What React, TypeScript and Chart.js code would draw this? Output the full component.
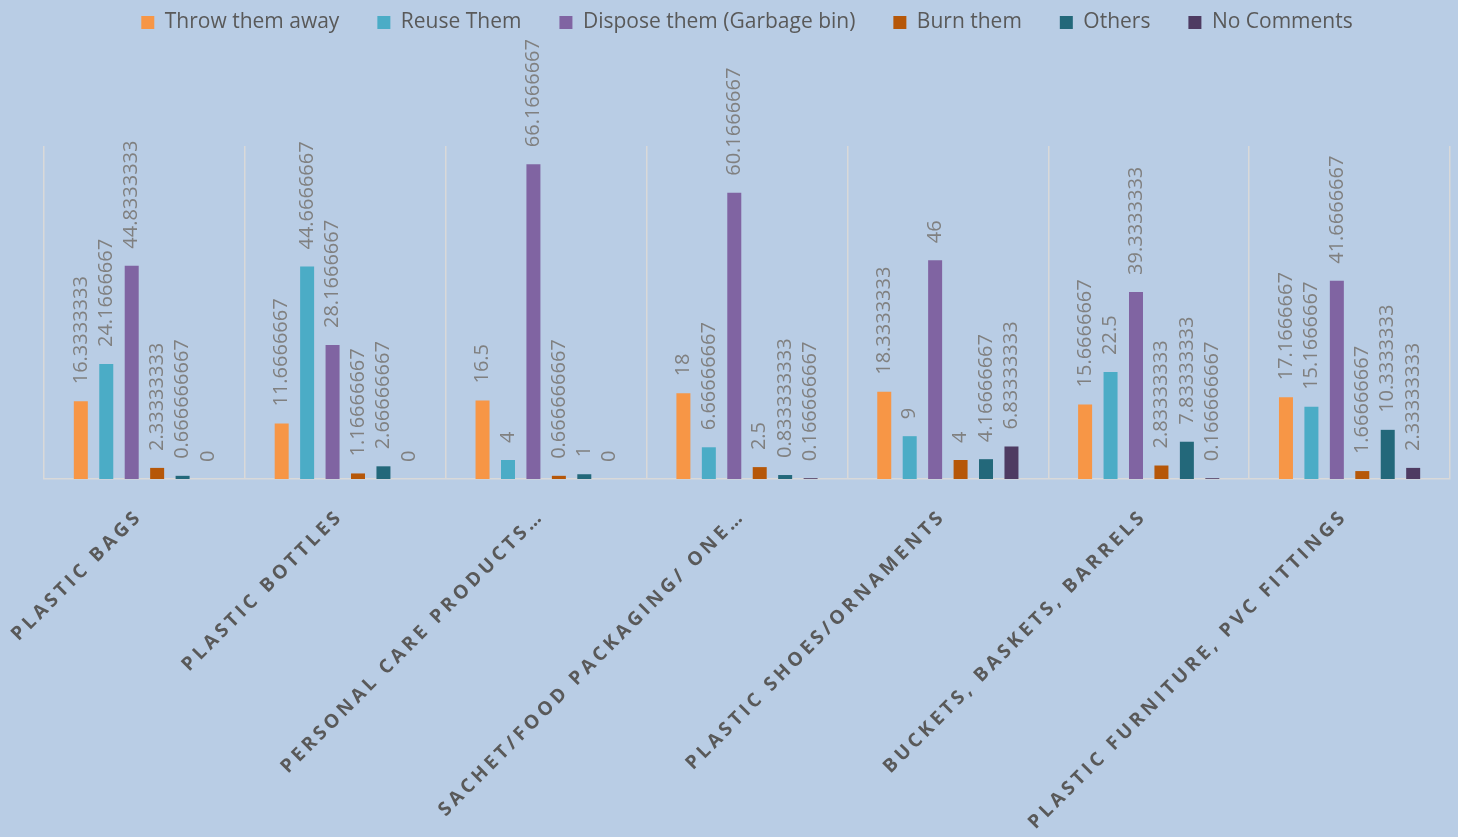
import React, { useEffect, useRef } from "react";
import { Chart, registerables } from "chart.js";

Chart.register(...registerables);

const categories = [
  "PLASTIC BAGS",
  "PLASTIC BOTTLES",
  "PERSONAL CARE PRODUCTS…",
  "SACHET/FOOD PACKAGING/ ONE…",
  "PLASTIC SHOES/ORNAMENTS",
  "BUCKETS, BASKETS, BARRELS",
  "PLASTIC FURNITURE, PVC FITTINGS",
];

const throwAway = [16.3333333, 11.6666667, 16.5, 18, 18.3333333, 15.6666667, 17.1666667];
const reuse = [24.1666667, 44.6666667, 4, 6.66666667, 9, 22.5, 15.1666667];
const dispose = [44.8333333, 28.1666667, 66.1666667, 60.1666667, 46, 39.3333333, 41.6666667];
const burn = [2.33333333, 1.16666667, 0.666666667, 2.5, 4, 2.83333333, 1.66666667];
const others = [0.666666667, 2.66666667, 1, 0.833333333, 4.16666667, 7.83333333, 10.3333333];
const noComments = [0, 0, 0, 0.166666667, 6.83333333, 0.166666667, 2.33333333];

const seriesNames = [
  "Throw them away",
  "Reuse Them",
  "Dispose them (Garbage bin)",
  "Burn them",
  "Others",
  "No Comments",
];
const seriesColors = ["#f79646", "#4bacc6", "#8064a2", "#b65708", "#23687a", "#4e3b62"];
const seriesData = [throwAway, reuse, dispose, burn, others, noComments];

const FONT = "'Open Sans', sans-serif";

const valueLabelPlugin = {
  id: "valueLabels",
  afterDatasetsDraw(chart: any) {
    const ctx = chart.ctx;
    ctx.save();
    ctx.font = `20px ${FONT}`;
    ctx.fillStyle = "#808080";
    ctx.textAlign = "left";
    ctx.textBaseline = "middle";
    chart.data.datasets.forEach((ds: any, i: number) => {
      const meta = chart.getDatasetMeta(i);
      meta.data.forEach((bar: any, j: number) => {
        const v = ds.data[j];
        const { x, y } = bar.getProps(["x", "y"], true);
        ctx.save();
        ctx.translate(x, y - 17);
        ctx.rotate(-Math.PI / 2);
        ctx.fillText(String(v), 0, 0);
        ctx.restore();
      });
    });
    ctx.restore();
  },
};

const xLabelSpacingPlugin = {
  id: "xLabelSpacing",
  beforeDraw(chart: any) {
    const s: any = chart.scales.x;
    if (s && !s.__patched) {
      const orig = s.drawLabels.bind(s);
      s.drawLabels = (area: any) => {
        const ctx: any = chart.ctx;
        const prev = ctx.letterSpacing;
        ctx.letterSpacing = "3.8px";
        orig(area);
        ctx.letterSpacing = prev || "0px";
      };
      s.__patched = true;
    }
  },
};

export default function App() {
  const canvasRef = useRef<HTMLCanvasElement | null>(null);

  useEffect(() => {
    if (!canvasRef.current) return;
    const chart = new Chart(canvasRef.current, {
      type: "bar",
      data: {
        labels: categories,
        datasets: seriesNames.map((name, i) => ({
          label: name,
          data: seriesData[i],
          backgroundColor: seriesColors[i],
          borderWidth: 0,
          categoryPercentage: 0.76,
          barPercentage: 0.55,
        })),
      },
      options: {
        animation: false,
        responsive: true,
        maintainAspectRatio: false,
        layout: { padding: { left: 44, right: 8, top: 0, bottom: 0 } },
        plugins: {
          legend: {
            display: true,
            position: "top",
            labels: {
              boxWidth: 13,
              boxHeight: 13,
              padding: 38,
              color: "#595959",
              font: { family: FONT, size: 21 },
            },
          },
          title: {
            display: true,
            text: "",
            weight: 500,
            font: { size: 10 },
            padding: { top: 0, bottom: 91 },
          } as any,
          tooltip: { enabled: false },
        },
        scales: {
          x: {
            offset: true,
            afterFit: (scale: any) => {
              scale.height = 358;
            },
            grid: {
              offset: true,
              display: true,
              drawTicks: false,
              color: "#d9d9d9",
              lineWidth: 1.5,
            },
            border: { display: true, color: "#d9d9d9", width: 1.5 },
            ticks: {
              autoSkip: false,
              maxRotation: 45,
              minRotation: 45,
              padding: 26,
              labelOffset: -5,
              color: "#595959",
              font: { family: FONT, size: 19, weight: "bold" },
            },
          },
          y: {
            display: false,
            min: 0,
            max: 70,
          },
        },
      },
      plugins: [valueLabelPlugin, xLabelSpacingPlugin],
    });
    return () => chart.destroy();
  }, []);

  return (
    <div
      style={{
        position: "absolute",
        left: 0,
        top: -26,
        width: 1458,
        height: 863,
        background: "#b9cde5",
      }}
    >
      <canvas ref={canvasRef} />
    </div>
  );
}
